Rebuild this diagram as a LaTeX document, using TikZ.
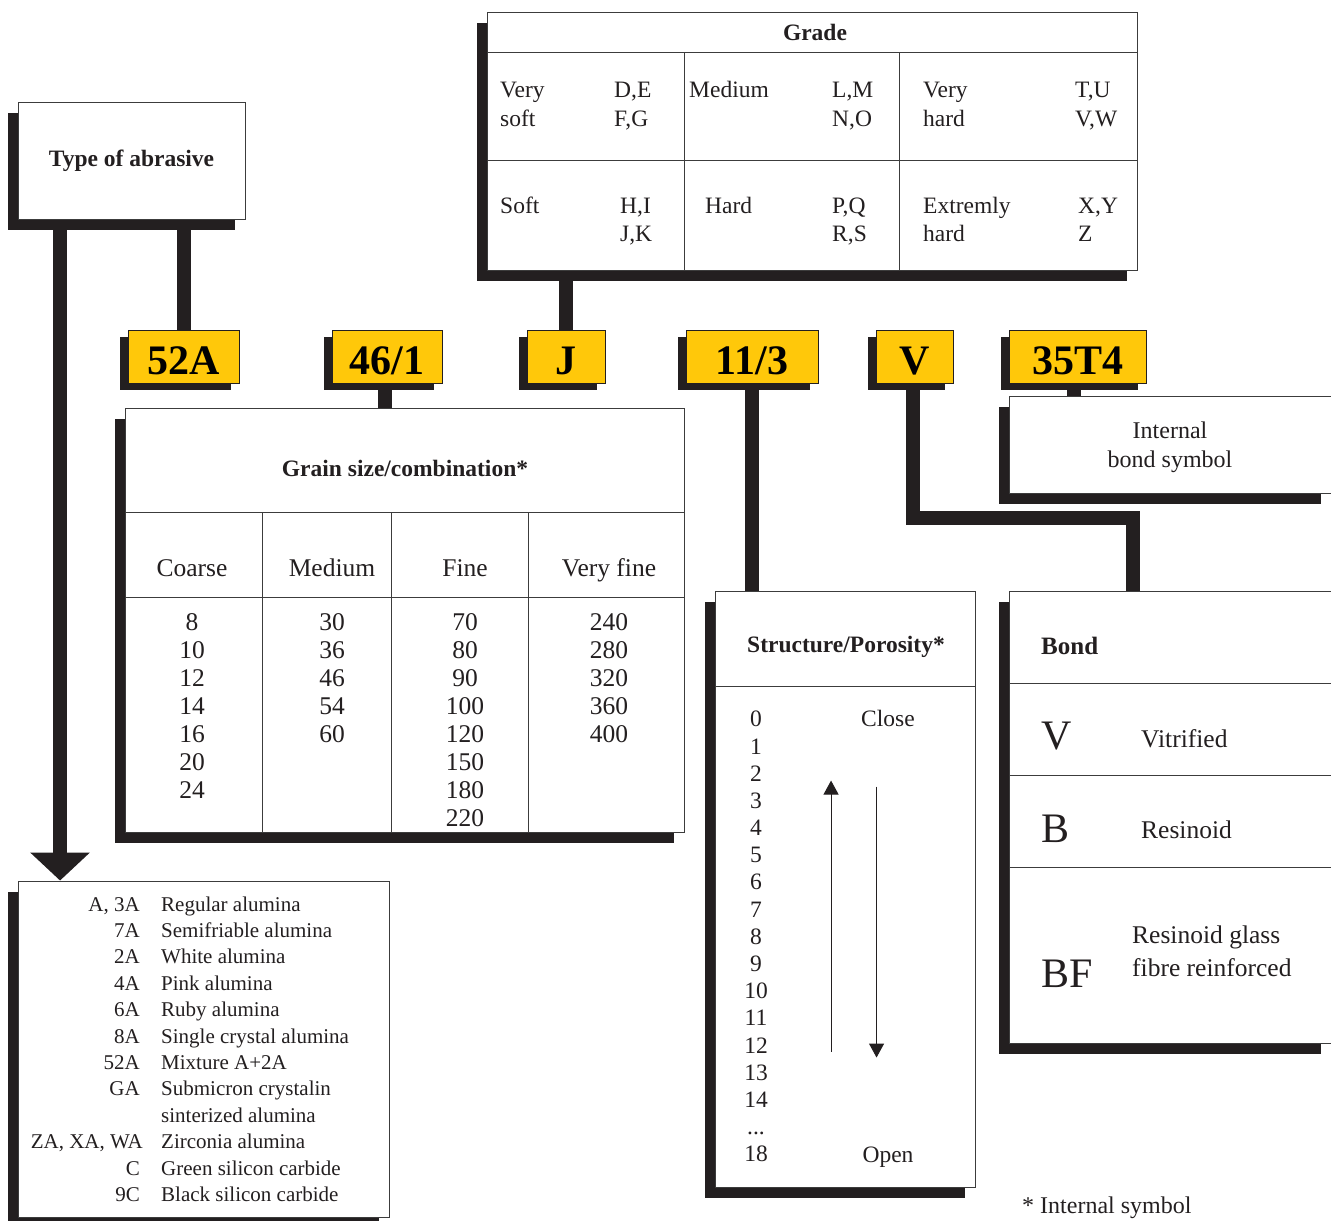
\documentclass[tikz,border=0pt]{standalone}
\usepackage{fontspec}
\setmainfont{Liberation Serif}
\usetikzlibrary{shadows,arrows.meta,calc}
\definecolor{ink}{RGB}{35,31,32}
\definecolor{gold}{RGB}{255,200,10}
\definecolor{rulec}{RGB}{60,60,60}
\pgfdeclarelayer{bg}
\pgfsetlayers{bg,main}
\begin{document}
\begin{tikzpicture}[x=1pt,y=-1pt,
  wbox/.style={draw=rulec, line width=0.9pt, fill=white, inner sep=0pt,
    drop shadow={shadow xshift=-10pt, shadow yshift=-11pt, fill=ink, opacity=1}},
  ybox/.style={draw=ink, line width=0.9pt, fill=gold, inner sep=0pt,
    minimum height=53pt, text height=35pt, text depth=0pt,
    font=\bfseries\fontsize{42}{42}\selectfont,
    drop shadow={shadow xshift=-8pt, shadow yshift=-7pt, fill=ink, opacity=1}},
  bar/.style={draw=ink, line width=14pt},
  tline/.style={draw=rulec, line width=0.9pt},
  thinarrow/.style={draw=ink, line width=1pt, -{Triangle[width=15pt,length=14pt]}},
  t/.style={inner sep=0pt, text=ink, font=\fontsize{23.5}{23.5}\selectfont},
  tb/.style={inner sep=0pt, text=ink, font=\bfseries\fontsize{23.5}{23.5}\selectfont},
  tg/.style={inner sep=0pt, text=ink, font=\fontsize{25.5}{25.5}\selectfont},
  tl/.style={inner sep=0pt, text=ink, font=\fontsize{21}{21}\selectfont},
  tbig/.style={inner sep=0pt, text=ink, font=\fontsize{42}{42}\selectfont}
]
\useasboundingbox (0,0) rectangle (1331,1221);

% ---------- boxes ----------
\node[wbox, minimum width=227pt, minimum height=117pt, text=ink,
      font=\bfseries\fontsize{23.5}{23.5}\selectfont] (type) at (131.5,160.5) {Type of abrasive};
\node[wbox, minimum width=650pt, minimum height=258pt] (grade) at (812,141) {};
\node[wbox, minimum width=559pt, minimum height=424pt] (grain) at (404.5,620) {};
\node[wbox, minimum width=260pt, minimum height=596pt] (struct) at (845,889) {};
\node[wbox, minimum width=322pt, minimum height=452pt] (bond) at (1170,817) {};
\node[wbox, minimum width=322pt, minimum height=97pt] (internal) at (1170,444.5) {};
\node[wbox, minimum width=371pt, minimum height=336pt] (list) at (203.5,1049) {};

% ---------- code boxes ----------
\node[ybox, minimum width=111pt] (c52A) at (183.5,356.5) {52A};
\node[ybox, minimum width=110pt] (c461) at (387,356.5) {46/1};
\node[ybox, minimum width=78pt]  (cJ)   at (566,356.5) {J};
\node[ybox, minimum width=132pt] (c113) at (752,356.5) {11/3};
\node[ybox, minimum width=77pt]  (cV)   at (914.5,356.5) {V};
\node[ybox, minimum width=137pt] (c35)  at (1077.5,356.5) {35T4};

% ---------- connectors ----------
\begin{pgfonlayer}{bg}
  \coordinate (tip) at ($(list.north west)+(42.5,0)$);
  \draw[bar, -{Triangle[width=58pt,length=28pt]}] (tip |- type.south) -- (tip);
  \draw[bar] (c52A.north) -- (c52A.north |- type.south);
  \draw[bar] ($(c461.south)+(-2,0)$) -- ($(c461.south |- grain.north)+(-2,0)$);
  \draw[bar] (cJ.north) -- (cJ.north |- grade.south);
  \draw[bar] (c113.south) -- (c113.south |- struct.north);
  \coordinate (vb) at ($(bond.north west)+(124,0)$);
  \draw[bar, line join=miter] ($(cV.south)+(-2,0)$) |- ($(vb)+(0,-73)$) -- (vb);
  \draw[bar] ($(c35.south)+(-3.5,0)$) -- ($(c35.south |- internal.north)+(-3.5,0)$);
\end{pgfonlayer}

% ---------- Grade table ----------
\draw[tline] (487,52) -- (1137,52);
\draw[tline] (487,160) -- (1137,160);
\draw[tline] (684,52) -- (684,270);
\draw[tline] (899,52) -- (899,270);
\node[tb, anchor=base] at (815,40) {Grade};
\node[t, anchor=base west] at (500,97) {Very};
\node[t, anchor=base west] at (500,126) {soft};
\node[t, anchor=base west] at (614,97) {D,E};
\node[t, anchor=base west] at (614,126) {F,G};
\node[t, anchor=base west] at (689,97) {Medium};
\node[t, anchor=base west] at (832,97) {L,M};
\node[t, anchor=base west] at (832,126) {N,O};
\node[t, anchor=base west] at (923,97) {Very};
\node[t, anchor=base west] at (923,126) {hard};
\node[t, anchor=base west] at (1075,97) {T,U};
\node[t, anchor=base west] at (1075,126) {V,W};
\node[t, anchor=base west] at (500,213) {Soft};
\node[t, anchor=base west] at (620,213) {H,I};
\node[t, anchor=base west] at (620,241) {J,K};
\node[t, anchor=base west] at (705,213) {Hard};
\node[t, anchor=base west] at (832,213) {P,Q};
\node[t, anchor=base west] at (832,241) {R,S};
\node[t, anchor=base west] at (923,213) {Extremly};
\node[t, anchor=base west] at (923,241) {hard};
\node[t, anchor=base west] at (1078,213) {X,Y};
\node[t, anchor=base west] at (1078,241) {Z};

% ---------- Grain table ----------
\draw[tline] (125,512) -- (684,512);
\draw[tline] (125,597) -- (684,597);
\draw[tline] (262,512) -- (262,832);
\draw[tline] (391,512) -- (391,832);
\draw[tline] (528,512) -- (528,832);
\node[tb, anchor=base] at (405,476) {Grain size/combination*};
\node[tg, anchor=base] at (192,576) {Coarse};
\node[tg, anchor=base] at (332,576) {Medium};
\node[tg, anchor=base] at (465,576) {Fine};
\node[tg, anchor=base] at (609,576) {Very fine};
\foreach \n [count=\i] in {8,10,12,14,16,20,24}
  \node[tg, anchor=base] at (192,{630.5+28*(\i-1)}) {\n};
\foreach \n [count=\i] in {30,36,46,54,60}
  \node[tg, anchor=base] at (332,{630.5+28*(\i-1)}) {\n};
\foreach \n [count=\i] in {70,80,90,100,120,150,180,220}
  \node[tg, anchor=base] at (465,{630.5+28*(\i-1)}) {\n};
\foreach \n [count=\i] in {240,280,320,360,400}
  \node[tg, anchor=base] at (609,{630.5+28*(\i-1)}) {\n};

% ---------- Structure ----------
\draw[tline] (715,686) -- (975,686);
\node[tb, anchor=base] at (846,652) {Structure/Porosity*};
\foreach \n [count=\i from 0] in {0,1,2,3,4,5,6,7,8,9,10,11,12,13,14}
  \node[t, anchor=base] at (756,{726.8+27.19*\i}) {\n};
\node[t, anchor=base] at (756,{726.8+27.19*15}) {...};
\node[t, anchor=base] at (756,{726.8+27.19*16}) {18};
\node[t, anchor=base] at (888,726.8) {Close};
\node[t, anchor=base] at (888,1162) {Open};
\coordinate (upA) at ($(struct.north west)+(116.5,461)$);
\coordinate (upB) at ($(struct.north west)+(116.5,190)$);
\coordinate (dnA) at ($(struct.north west)+(162,196)$);
\coordinate (dnB) at ($(struct.north west)+(162,467)$);
\draw[thinarrow] (upA) -- (upB);
\draw[thinarrow] (dnA) -- (dnB);

% ---------- Bond ----------
\draw[tline] (1009,683) -- (1331,683);
\draw[tline] (1009,775) -- (1331,775);
\draw[tline] (1009,867) -- (1331,867);
\node[tb, anchor=base west, font=\bfseries\fontsize{25}{25}\selectfont] at (1041,654) {Bond};
\node[tbig, anchor=base west] at (1041,749) {V};
\node[tg, anchor=base west] at (1141,747) {Vitrified};
\node[tbig, anchor=base west] at (1041,842) {B};
\node[tg, anchor=base west] at (1141,838) {Resinoid};
\node[tbig, anchor=base west] at (1041,987) {BF};
\node[tg, anchor=base west] at (1132,943) {Resinoid glass};
\node[tg, anchor=base west] at (1132,976) {fibre reinforced};

% ---------- Internal bond symbol ----------
\node[t, anchor=base, font=\fontsize{24}{24}\selectfont] at (1170,438) {Internal};
\node[t, anchor=base, font=\fontsize{24}{24}\selectfont] at (1170,467) {bond symbol};

% ---------- Abrasive list ----------
\node[tl, anchor=base east] at (140,911) {A, 3A};
\node[tl, anchor=base west] at (161,911) {Regular alumina};
\node[tl, anchor=base east] at (140,937.4) {7A};
\node[tl, anchor=base west] at (161,937.4) {Semifriable alumina};
\node[tl, anchor=base east] at (140,963.8) {2A};
\node[tl, anchor=base west] at (161,963.8) {White alumina};
\node[tl, anchor=base east] at (140,990.2) {4A};
\node[tl, anchor=base west] at (161,990.2) {Pink alumina};
\node[tl, anchor=base east] at (140,1016.6) {6A};
\node[tl, anchor=base west] at (161,1016.6) {Ruby alumina};
\node[tl, anchor=base east] at (140,1043) {8A};
\node[tl, anchor=base west] at (161,1043) {Single crystal alumina};
\node[tl, anchor=base east] at (140,1069.4) {52A};
\node[tl, anchor=base west] at (161,1069.4) {Mixture A+2A};
\node[tl, anchor=base east] at (140,1095.8) {GA};
\node[tl, anchor=base west] at (161,1095.8) {Submicron crystalin};
\node[tl, anchor=base west] at (161,1122.2) {sinterized alumina};
\node[tl, anchor=base east] at (143,1148.6) {ZA, XA, WA};
\node[tl, anchor=base west] at (161,1148.6) {Zirconia alumina};
\node[tl, anchor=base east] at (140,1175) {C};
\node[tl, anchor=base west] at (161,1175) {Green silicon carbide};
\node[tl, anchor=base east] at (140,1201.4) {9C};
\node[tl, anchor=base west] at (161,1201.4) {Black silicon carbide};

% ---------- footnote ----------
\node[t, anchor=base west, font=\fontsize{24}{24}\selectfont] at (1022,1213) {* Internal symbol};
\end{tikzpicture}
\end{document}
